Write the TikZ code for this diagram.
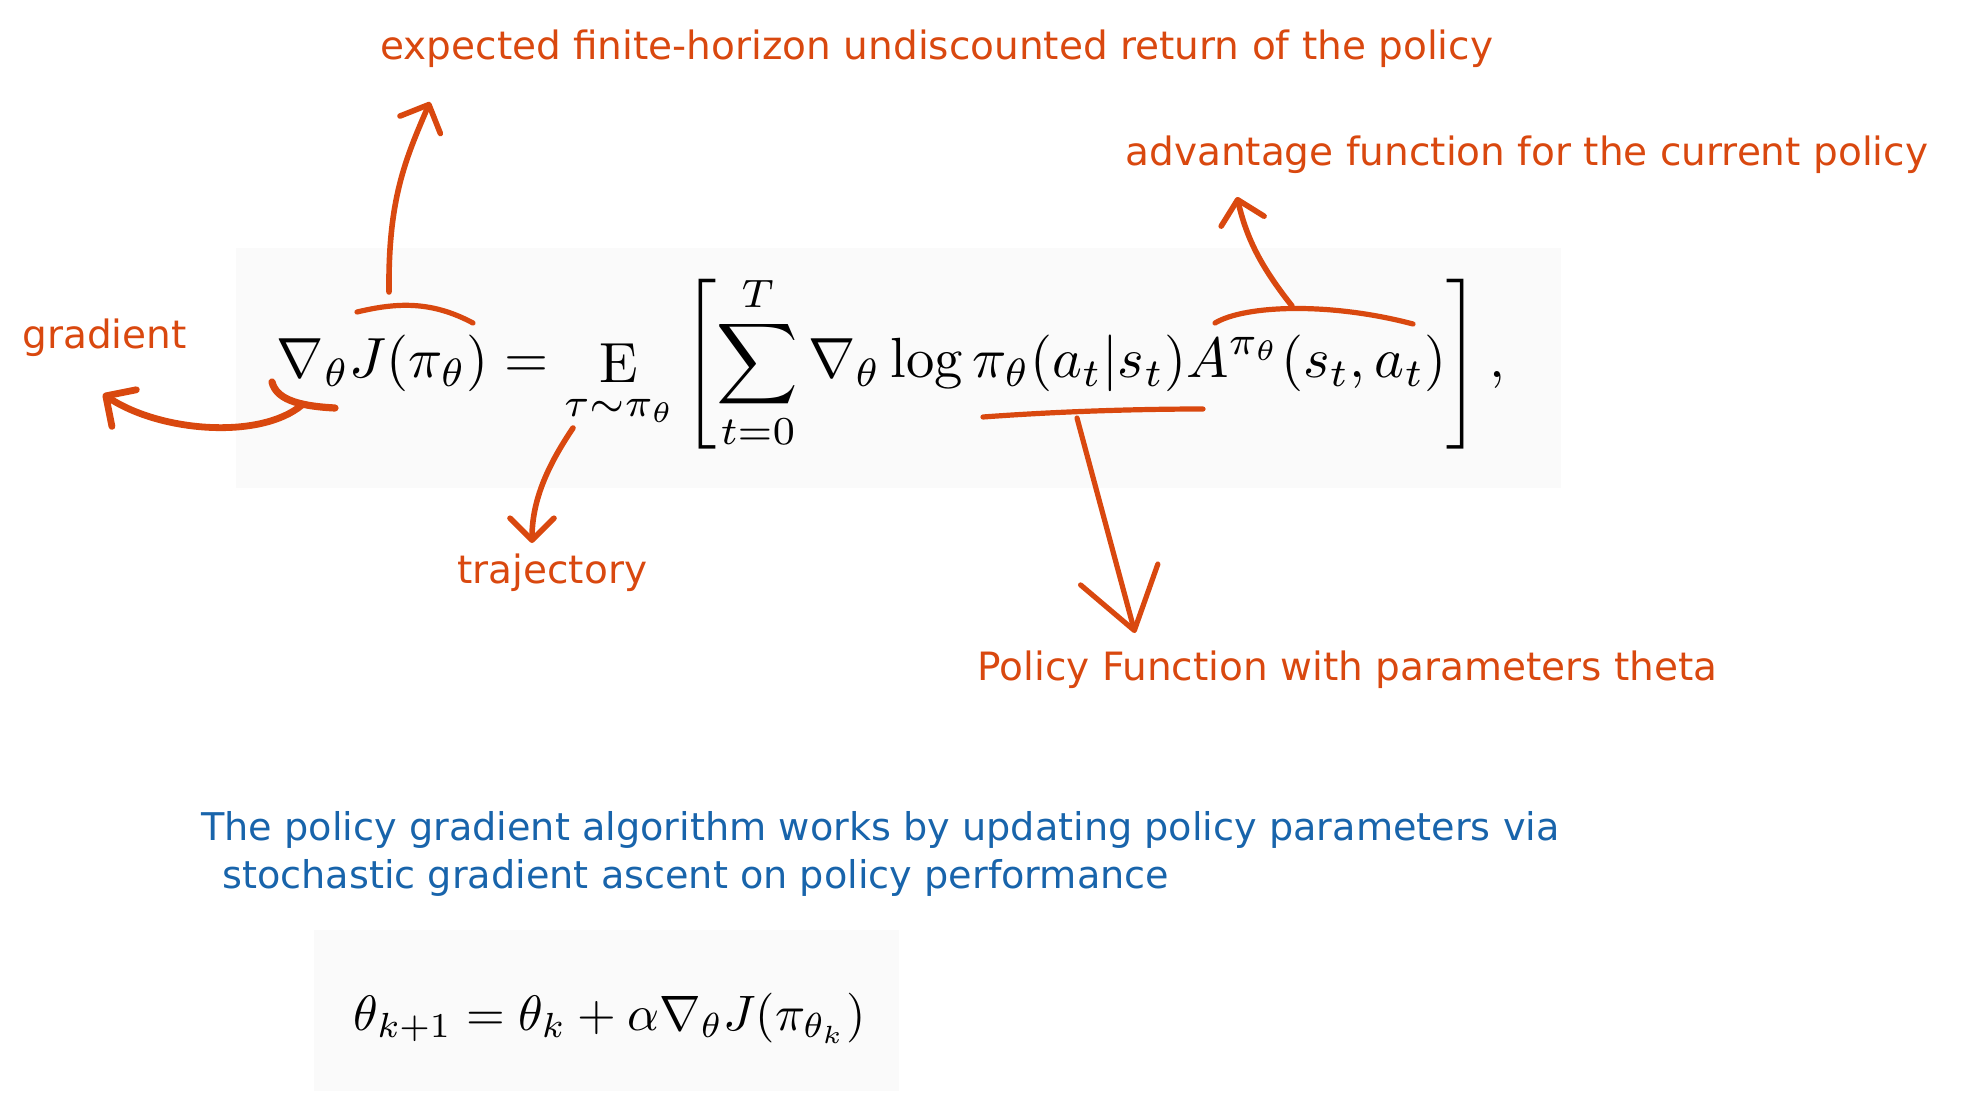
\documentclass[tikz,border=0pt]{standalone}
\usepackage{fontspec}
\usepackage{graphicx}
\usetikzlibrary{arrows.meta}
\newfontfamily\handfont{DejaVu Sans}
\definecolor{inkorange}{HTML}{D9480F}
\definecolor{inkblue}{HTML}{1864AB}
\definecolor{panelgray}{HTML}{FAFAFA}

\begin{document}
\begin{tikzpicture}[
    x=0.5pt, y=-0.5pt,
    panel/.style={fill=panelgray, draw=none, inner sep=0pt},
    note/.style={font=\handfont\fontsize{19.1}{24}\selectfont, text=inkblue, inner sep=0pt, anchor=base west},
    lbl/.style={note, font=\handfont\fontsize{19.5}{24}\selectfont, text=inkorange},
    arcline/.style={draw=inkorange, line width=2.6pt, line cap=round},
    pointer/.style={arcline, -{Straight Barb[length=11pt, width=22pt, round]}}
  ]
    \useasboundingbox (0,0) rectangle (1971,1113);

    % formula panels
    \node[panel, minimum width=662.5pt, minimum height=120pt] (eqPanel) at (898.5,368) {};
    \node[panel, minimum width=292.5pt, minimum height=80.5pt] (updPanel) at (606.5,1010.5) {};
    \node[inner sep=0pt] (eqMain) at (891,362) {\resizebox{614pt}{!}{$\displaystyle
      \nabla_{\theta} J(\pi_{\theta}) = \mathop{\mathrm{E}}\limits_{\tau\sim\pi_{\theta}}
      \left[\sum_{t=0}^{T}\nabla_{\theta}\log\pi_{\theta}(a_t|s_t)A^{\pi_{\theta}}(s_t,a_t)\right],$}};
    \node[inner sep=0pt] (eqUpdate) at (610,1018) {\resizebox{256pt}{!}{$\displaystyle
      \theta_{k+1} = \theta_k + \alpha\nabla_{\theta} J(\pi_{\theta_k})$}};

    % labels
    \node[lbl] (expLbl) at (380,60) {expected finite-horizon undiscounted return of the policy};
    \node[lbl] (advLbl) at (1125,166) {advantage function for the current policy};
    \node[lbl] (gradLbl) at (22,348) {gradient};
    \node[lbl] (trajLbl) at (457,583) {trajectory};
    \node[lbl] (polLbl) at (977,680) {Policy Function with parameters theta};
    \node[note] (noteA) at (201,840) {The policy gradient algorithm works by updating policy parameters via};
    \node[note] (noteB) at (222,888) {stochastic gradient ascent on policy performance};

    % marks on the formula
    \draw[arcline, line width=3.6pt] (272,382) .. controls (276,398) and (295,406) .. (335,408);
    \draw[arcline] (357,312) .. controls (395,303) and (430,300) .. (473,323);
    \draw[arcline] (983,417) .. controls (1050,412) and (1130,409) .. (1203,409);
    \draw[arcline] (1215,323) .. controls (1245,305) and (1330,302) .. (1413,324);

    % arrows to the labels
    \coordinate (gradFrom) at (302,405);
    \coordinate (gradTip) at (103,394);
    \coordinate (retFrom) at (389,292);
    \coordinate (retTip) at (430,102);
    \coordinate (trajFrom) at (573,428);
    \coordinate (trajTip) at (532,543);
    \coordinate (polFrom) at (1077,418);
    \coordinate (polTip) at (1135,633);
    \coordinate (advFrom) at (1292,306);
    \coordinate (advTip) at (1237,197);

    \draw[pointer, line width=3.4pt] (gradFrom) .. controls (260,440) and (160,432) .. (gradTip);
    \draw[pointer, line width=2.8pt] (retFrom) .. controls (388,200) and (405,160) .. (retTip);
    \draw[pointer, line width=2.8pt] (trajFrom) .. controls (548,465) and (532,500) .. (trajTip);
    \draw[pointer, -{Straight Barb[length=29pt, width=40pt, round]}] (polFrom) -- (polTip);
    \draw[pointer, line width=2.8pt] (advFrom) .. controls (1262,268) and (1247,240) .. (advTip);
  \end{tikzpicture}
\end{document}
